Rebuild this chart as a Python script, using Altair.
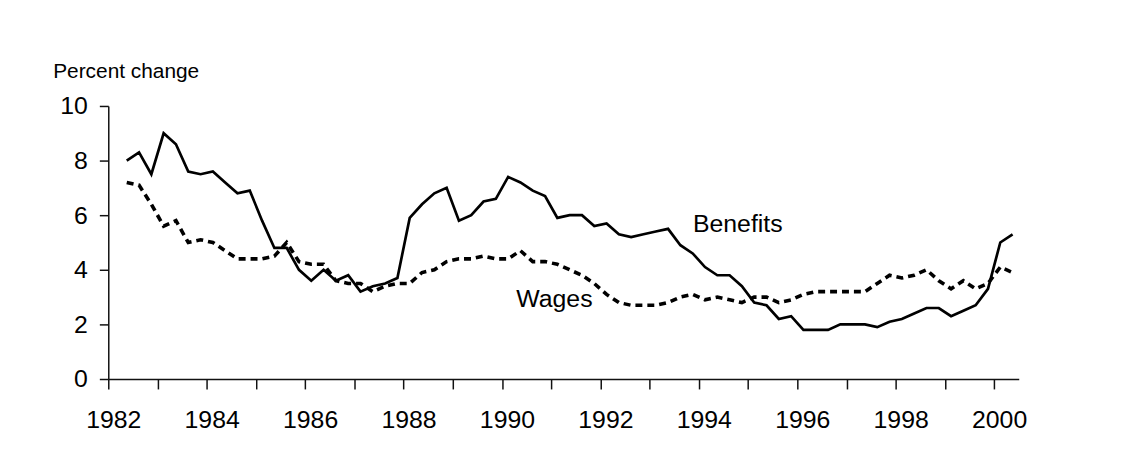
import altair as alt
import pandas as pd

# ---- data (quarterly, 12-month percent change), 1982 Q2 .. 2000 Q2 ----
start_year = 1982
start_quarter = 2

benefits = [8.0, 8.3, 7.5, 9.0, 8.6, 7.6, 7.5, 7.6, 7.2, 6.8,
            6.9, 5.8, 4.8, 4.8, 4.0, 3.6, 4.0, 3.6, 3.8, 3.2,
            3.4, 3.5, 3.7, 5.9, 6.4, 6.8, 7.0, 5.8, 6.0, 6.5,
            6.6, 7.4, 7.2, 6.9, 6.7, 5.9, 6.0, 6.0, 5.6, 5.7,
            5.3, 5.2, 5.3, 5.4, 5.5, 4.9, 4.6, 4.1, 3.8, 3.8,
            3.4, 2.8, 2.7, 2.2, 2.3, 1.8, 1.8, 1.8, 2.0, 2.0,
            2.0, 1.9, 2.1, 2.2, 2.4, 2.6, 2.6, 2.3, 2.5, 2.7,
            3.3, 5.0, 5.3]

wages = [7.2, 7.1, 6.4, 5.6, 5.8, 5.0, 5.1, 5.0, 4.7, 4.4,
         4.4, 4.4, 4.5, 5.0, 4.3, 4.2, 4.2, 3.6, 3.5, 3.5,
         3.2, 3.4, 3.5, 3.5, 3.9, 4.0, 4.3, 4.4, 4.4, 4.5,
         4.4, 4.4, 4.7, 4.3, 4.3, 4.2, 4.0, 3.8, 3.5, 3.1,
         2.8, 2.7, 2.7, 2.7, 2.8, 3.0, 3.1, 2.9, 3.0, 2.9,
         2.8, 3.0, 3.0, 2.8, 2.9, 3.1, 3.2, 3.2, 3.2, 3.2,
         3.2, 3.5, 3.8, 3.7, 3.8, 4.0, 3.6, 3.3, 3.6, 3.3,
         3.5, 4.1, 3.9]

x_ticks = list(range(1982, 2001))
y_ticks = [0, 2, 4, 6, 8, 10]
y_title = "Percent change"

label_text = ["Benefits", "Wages"]
label_x = [1993.88, 1990.29]
label_y = [5.38, 2.65]

FONT = "Liberation Sans"

rows = []
for i, (b, w) in enumerate(zip(benefits, wages)):
    q = start_quarter - 1 + i
    t = start_year + q // 4 + ((q % 4) + 0.5) / 4
    rows.append({"t": t, "series": "Benefits", "value": b})
    rows.append({"t": t, "series": "Wages", "value": w})
df = pd.DataFrame(rows)
labels = pd.DataFrame({"t": label_x, "value": label_y, "text": label_text})

x_enc = alt.X(
    "t:Q",
    scale=alt.Scale(domain=[1982, 2000.5], nice=False, zero=False),
    axis=alt.Axis(
        values=x_ticks, format="d",
        labelExpr="datum.value % 2 == 0 ? datum.label : ''",
        tickSize=10, tickWidth=1.5, tickColor="#111",
        domainColor="#111", domainWidth=1.5,
        labelFontSize=25, labelFont=FONT, labelColor="#000",
        labelPadding=19, labelOffset=5, labelFlush=False,
        labelOverlap=False, labelBound=False,
        grid=False, title=None,
    ),
)
y_enc = alt.Y(
    "value:Q",
    scale=alt.Scale(domain=[0, 10], nice=False, zero=True),
    axis=alt.Axis(
        values=y_ticks, format="d",
        tickSize=9, tickWidth=1.5, tickColor="#111",
        domainColor="#111", domainWidth=1.5,
        labelFontSize=25, labelFont=FONT, labelColor="#000",
        labelPadding=12, labelFlush=False, labelOverlap=False,
        grid=False,
        title=y_title, titleAngle=0, titleAlign="left",
        titleBaseline="alphabetic", titleX=-56, titleY=-29,
        titleFontSize=21, titleFontWeight="normal", titleFont=FONT,
        titleColor="#000",
    ),
)

base = alt.Chart(df)
ben = base.transform_filter(alt.datum.series == "Benefits").mark_line(
    color="#000", strokeWidth=2.7, strokeJoin="miter"
).encode(x=x_enc, y=y_enc)
wag = base.transform_filter(alt.datum.series == "Wages").mark_line(
    color="#000", strokeWidth=3.6, strokeDash=[7, 5], strokeJoin="miter"
).encode(x="t:Q", y="value:Q")

txt = alt.Chart(labels).mark_text(
    align="left", baseline="alphabetic", fontSize=25, font=FONT, color="#000"
).encode(x="t:Q", y="value:Q", text="text:N")

chart = alt.layer(ben, wag, txt).properties(
    width=917, height=275,
    autosize=alt.AutoSizeParams(type="none"),
    padding={"left": 101, "top": 97, "right": 104, "bottom": 93},
    background="white",
).configure_view(stroke=None)

chart.save("out.html", embed_options={"renderer": "svg", "actions": False})
